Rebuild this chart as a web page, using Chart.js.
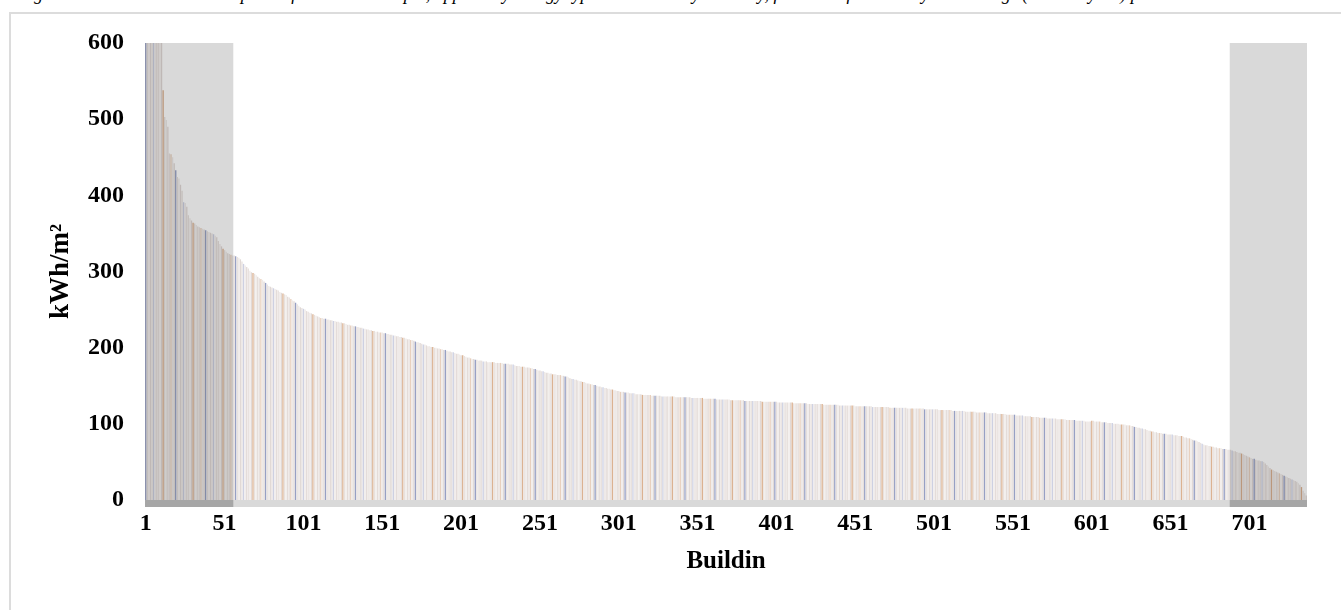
<!DOCTYPE html>
<html>
<head>
<meta charset="utf-8">
<script src="https://cdn.jsdelivr.net/npm/chart.js@4.4.1/dist/chart.umd.min.js"></script>
<style>
  html, body { margin: 0; padding: 0; background: #fff; width: 1341px; height: 610px; overflow: hidden; }
  #caption {
    position: absolute; left: 18px; top: -15px; white-space: nowrap;
    font: italic 18px/18px "Liberation Serif", "Times New Roman", serif; color: #000;
  }
  #frame {
    position: absolute; left: 9px; top: 12px; width: 1400px; height: 700px;
    border-left: 2px solid #dcdcdc; border-top: 2px solid #dcdcdc;
  }
  #chart { position: absolute; left: 0; top: 0; }
</style>
</head>
<body>
<div id="caption">Figure 4: Total annual consumption of the whole sample, applied by energy type and sorted by intensity, for each of the surveyed buildings (kWh/m² year) per unit</div>
<div id="frame"></div>
<canvas id="chart" width="1341" height="610"></canvas>
<script>
// Specific energy consumption of each building, sorted from highest to lowest (kWh/m²)
const consumption = [
  1480, 1210, 980, 860, 790, 742, 705, 676, 651, 630,
  612, 538, 503, 499, 490, 455, 454, 450, 442, 433,
  424, 422, 414, 406, 391, 390, 385, 374, 370, 367,
  364, 363, 361, 359, 358, 357, 356, 355, 354, 353,
  352, 351, 350, 349, 347, 345, 340, 336, 333, 330,
  328, 326, 324, 323, 322, 321, 321, 320, 319, 318,
  316, 313, 310, 308, 306, 304, 301, 299, 298, 297,
  295, 293, 291, 290, 289, 287, 285, 283, 281, 280,
  279, 278, 277, 276, 275, 273, 272, 271, 270, 269,
  267, 266, 264, 262, 261, 259, 257, 255, 253, 252,
  251, 250, 248, 247, 246, 245, 244, 243, 242, 241,
  240, 239, 239, 238, 238, 237, 237, 236, 236, 235,
  235, 234, 234, 233, 233, 232, 232, 231, 230, 230,
  229, 229, 228, 228, 227, 227, 226, 226, 225, 225,
  224, 224, 223, 223, 222, 222, 221, 221, 220, 220,
  220, 219, 219, 218, 218, 217, 217, 216, 216, 215,
  215, 214, 214, 213, 213, 212, 211, 211, 210, 210,
  209, 208, 207, 207, 206, 205, 204, 204, 203, 202,
  202, 201, 201, 200, 200, 199, 199, 198, 198, 197,
  197, 196, 195, 195, 194, 194, 193, 192, 192, 191,
  190, 190, 189, 188, 187, 187, 186, 185, 185, 184,
  184, 183, 183, 183, 182, 182, 182, 181, 181, 181,
  181, 181, 180, 180, 180, 180, 180, 179, 179, 179,
  179, 178, 178, 178, 177, 176, 176, 176, 175, 175,
  175, 174, 174, 174, 173, 173, 172, 172, 171, 170,
  170, 169, 169, 168, 167, 167, 166, 166, 165, 165,
  165, 164, 164, 164, 163, 163, 162, 162, 161, 160,
  159, 159, 158, 158, 157, 156, 156, 155, 155, 154,
  153, 153, 152, 152, 151, 151, 150, 149, 149, 148,
  148, 147, 147, 146, 146, 145, 145, 144, 144, 143,
  143, 142, 142, 142, 141, 141, 141, 140, 140, 140,
  140, 139, 139, 139, 139, 138, 138, 138, 138, 138,
  138, 137, 137, 137, 137, 137, 137, 136, 136, 136,
  136, 136, 136, 136, 136, 136, 135, 135, 135, 135,
  135, 135, 135, 135, 135, 135, 134, 134, 134, 134,
  134, 134, 134, 134, 133, 133, 133, 133, 133, 133,
  133, 133, 132, 132, 132, 132, 132, 132, 132, 132,
  132, 131, 131, 131, 131, 131, 131, 131, 131, 131,
  130, 130, 130, 130, 130, 130, 130, 130, 130, 130,
  130, 129, 129, 129, 129, 129, 129, 129, 129, 129,
  129, 128, 128, 128, 128, 128, 128, 128, 128, 128,
  128, 127, 127, 127, 127, 127, 127, 127, 127, 127,
  126, 126, 126, 126, 126, 126, 126, 126, 126, 126,
  125, 125, 125, 125, 125, 125, 125, 125, 125, 125,
  124, 124, 124, 124, 124, 124, 124, 124, 124, 124,
  123, 123, 123, 123, 123, 123, 123, 123, 123, 123,
  123, 122, 122, 122, 122, 122, 122, 122, 122, 122,
  122, 122, 121, 121, 121, 121, 121, 121, 121, 121,
  121, 121, 121, 120, 120, 120, 120, 120, 120, 120,
  120, 120, 120, 120, 119, 119, 119, 119, 119, 119,
  119, 119, 119, 118, 118, 118, 118, 118, 118, 118,
  118, 118, 117, 117, 117, 117, 117, 117, 117, 117,
  116, 116, 116, 116, 116, 116, 116, 115, 115, 115,
  115, 115, 115, 115, 114, 114, 114, 114, 114, 114,
  113, 113, 113, 113, 113, 113, 112, 112, 112, 112,
  112, 112, 111, 111, 111, 111, 111, 110, 110, 110,
  110, 110, 109, 109, 109, 109, 109, 108, 108, 108,
  108, 108, 107, 107, 107, 107, 107, 107, 106, 106,
  106, 106, 106, 106, 105, 105, 105, 105, 105, 105,
  104, 104, 104, 104, 104, 104, 103, 103, 103, 103,
  104, 104, 103, 103, 103, 103, 102, 102, 102, 102,
  101, 101, 101, 101, 100, 100, 100, 100, 99, 99,
  99, 99, 98, 98, 98, 97, 97, 96, 96, 95,
  95, 94, 94, 93, 93, 92, 91, 91, 90, 90,
  89, 89, 88, 88, 88, 87, 87, 87, 86, 86,
  86, 86, 85, 85, 85, 84, 84, 84, 83, 82,
  82, 81, 81, 80, 79, 78, 78, 77, 76, 75,
  74, 73, 72, 72, 71, 71, 70, 70, 69, 69,
  68, 68, 68, 67, 67, 67, 66, 66, 66, 65,
  64, 64, 63, 62, 62, 61, 60, 59, 58, 57,
  56, 55, 54, 54, 53, 52, 52, 51, 51, 50,
  48, 46, 44, 42, 40, 39, 38, 37, 36, 35,
  34, 33, 32, 31, 30, 29, 28, 27, 26, 25,
  24, 22, 20, 17, 12, 9, 6
];

// Building numbers along the x axis
const buildings = consumption.map((_, i) => String(i + 1));

// Building numbers that carry a tick label
const tickLabels = ['1', '51', '101', '151', '201', '251', '301', '351', '401', '451', '501', '551', '601', '651', '701'];

// Value axis ticks (kWh/m²)
const yTicks = [0, 100, 200, 300, 400, 500, 600];

// Highlighted groups of buildings: first and last building number of each band
const highlightStart = [1, 689];
const highlightEnd = [56, 737];

// Repeating set of pale bar colours
const barPalette = [
  '#97a0c4', '#e6dfdc', '#eee9e7', '#e1d9d6', '#e8e1de', '#cdd0e2',
  '#eee9e7', '#e4dcd9', '#e8e1de', '#efeae8', '#e1d9d6', '#dbb292',
  '#e8e1de', '#eee9e7', '#e4dcd9', '#e8e1de', '#e8d0be', '#eee9e7', '#e1d9d6'
];

const serif = '"Liberation Serif", "Times New Roman", serif';

// Grey bands behind the highlighted groups and the strip under the zero line
const bandPlugin = {
  id: 'bands',
  afterDatasetsDraw(chart) {
    const { ctx, scales: { x, y } } = chart;
    const half = (x.getPixelForValue(1) - x.getPixelForValue(0)) / 2;
    const yTop = y.getPixelForValue(yTicks[yTicks.length - 1]);
    const yZero = y.getPixelForValue(0);
    const strip = 7;
    ctx.save();
    ctx.fillStyle = '#d9d9d9';
    ctx.fillRect(x.left, yZero, x.right - x.left, strip);
    ctx.globalCompositeOperation = 'multiply';
    highlightStart.forEach((first, k) => {
      const l = x.getPixelForValue(first - 1) - half;
      const r = x.getPixelForValue(highlightEnd[k] - 1) + half;
      ctx.fillStyle = '#d9d9d9';
      ctx.fillRect(l, yTop, r - l, yZero + strip - yTop);
      ctx.fillStyle = '#e6e6e6';
      ctx.fillRect(l, yZero, r - l, strip);
    });
    ctx.restore();
  }
};

new Chart(document.getElementById('chart'), {
  type: 'bar',
  data: {
    labels: buildings,
    datasets: [{
      data: consumption,
      backgroundColor: consumption.map((_, i) => barPalette[i % barPalette.length]),
      borderWidth: 0,
      barPercentage: 0.85,
      categoryPercentage: 1
    }]
  },
  options: {
    responsive: false,
    animation: false,
    devicePixelRatio: 1,
    layout: { padding: { left: 11, top: 43, right: 34, bottom: 30 } },
    plugins: { legend: { display: false }, tooltip: { enabled: false } },
    scales: {
      x: {
        grid: { display: false, drawTicks: false },
        border: { display: false },
        ticks: {
          autoSkip: false,
          maxRotation: 0,
          minRotation: 0,
          padding: 9,
          color: '#000',
          font: { family: serif, size: 24, weight: 'bold' },
          callback(value, index) {
            const name = buildings[index];
            return tickLabels.includes(name) ? name : '';
          }
        },
        title: {
          display: true,
          text: 'Buildin',
          color: '#000',
          font: { family: serif, size: 25, weight: 'bold' },
          padding: { top: 0, bottom: 3 }
        },
        afterFit(scale) { scale.height = 80; }
      },
      y: {
        min: yTicks[0],
        max: yTicks[yTicks.length - 1],
        grid: { display: false, drawTicks: false },
        border: { display: false },
        afterBuildTicks(scale) { scale.ticks = yTicks.map(v => ({ value: v })); },
        ticks: {
          padding: 21,
          color: '#000',
          font: { family: serif, size: 24, weight: 'bold' }
        },
        title: {
          display: true,
          text: 'kWh/m²',
          color: '#000',
          font: { family: serif, size: 27, weight: 'bold' },
          padding: { top: 34, bottom: 0 }
        },
        afterFit(scale) { scale.width = 134; }
      }
    }
  },
  plugins: [bandPlugin]
});
</script>
</body>
</html>
